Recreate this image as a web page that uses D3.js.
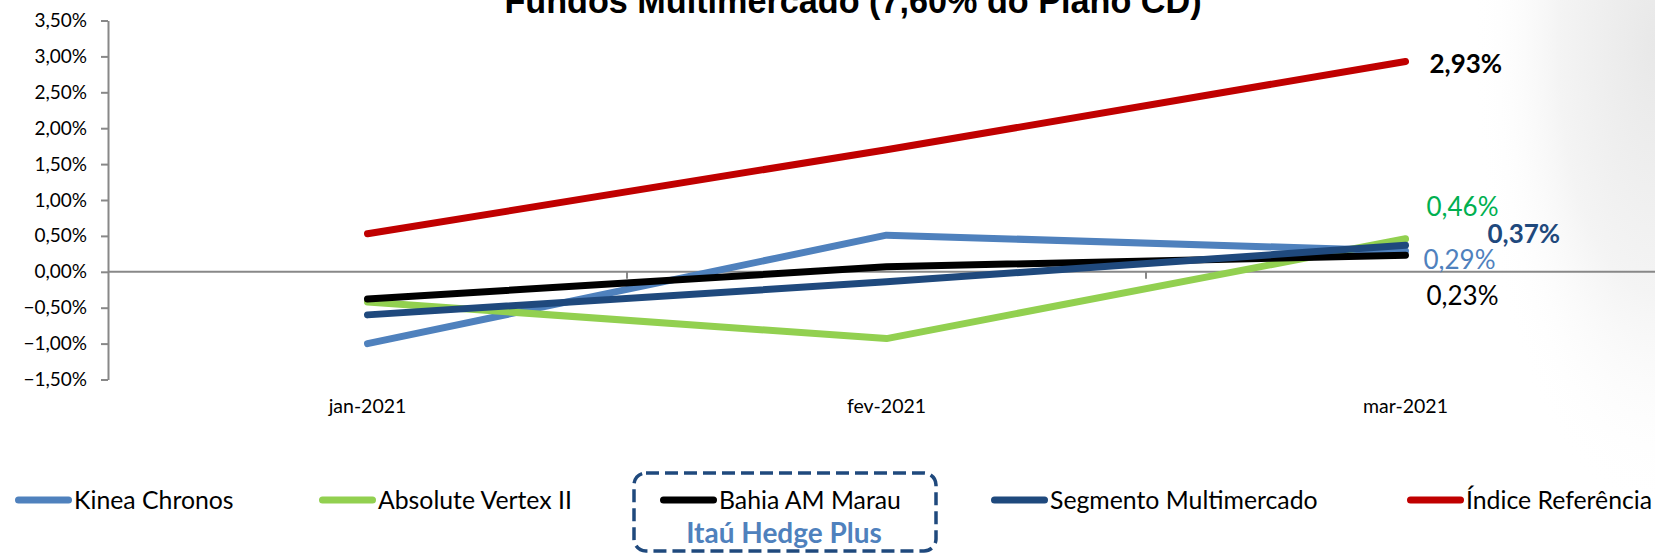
<!DOCTYPE html>
<html>
<head>
<meta charset="utf-8">
<script src="https://cdn.jsdelivr.net/npm/d3@7"></script>
<style>
  html, body { margin: 0; padding: 0; background: #ffffff; }
  svg { display: block; }
</style>
</head>
<body>
<svg id="chart" width="1655" height="553"></svg>
<script>
// ---------- DATA ----------
const chartTitle = "Fundos Multimercado (7,60% do Plano CD)";
const categories = ["jan-2021", "fev-2021", "mar-2021"];
const seriesNames = ["Kinea Chronos", "Absolute Vertex II", "Bahia AM Marau", "Segmento Multimercado", "Índice Referência"];
const kineaChronos        = [-1.00,  0.51, 0.29];
const absoluteVertexII    = [-0.42, -0.93, 0.46];
const bahiaAMMarau        = [-0.38,  0.07, 0.23];
const segmentoMultimercado= [-0.60, -0.14, 0.37];
const indiceReferencia    = [ 0.53,  1.70, 2.93];
const yTicks = [-1.5, -1.0, -0.5, 0.0, 0.5, 1.0, 1.5, 2.0, 2.5, 3.0, 3.5];
const boxLabel = "Itaú Hedge Plus";

// ---------- STYLES ----------
const seriesValues = [kineaChronos, absoluteVertexII, bahiaAMMarau, segmentoMultimercado, indiceReferencia];
const lineColors  = ["#4F81BD", "#92D050", "#000000", "#1F497D", "#C00000"];
const labelColors = ["#4F81BD", "#00B050", "#000000", "#1F497D", "#000000"];
const labelBold   = [false, false, false, true, true];
const labelOffset = [[18, 9], [21, -32], [21, 40], [82, -12], [24, 2]];
const legendX     = [15, 319, 660, 991, 1407];
const FONT = "Lato, 'Open Sans', sans-serif";
const AXIS_GRAY = "#888888";

const locale = d3.formatLocale({decimal: ",", thousands: ".", grouping: [3], currency: ["R$", ""]});
const pct = locale.format(".2f");
const fmt = v => pct(v) + "%";

const svg = d3.select("#chart");

// background shade at right edge
const defs = svg.append("defs");
const rg = defs.append("radialGradient").attr("id", "shade")
  .attr("cx", 1).attr("cy", 0.08).attr("r", 1);
rg.append("stop").attr("offset", 0).attr("stop-color", "#e8e8e8");
rg.append("stop").attr("offset", 0.45).attr("stop-color", "#f4f4f4");
rg.append("stop").attr("offset", 0.85).attr("stop-color", "#ffffff").attr("stop-opacity", 0);
svg.append("rect").attr("width", 1655).attr("height", 553).attr("fill", "#ffffff");
svg.append("rect").attr("x", 1440).attr("y", 0).attr("width", 215).attr("height", 553).attr("fill", "url(#shade)");

// ---------- SCALES ----------
const x = d3.scaleBand().domain(categories).range([108, 1665]).padding(0);
const y = d3.scaleLinear().domain([d3.min(yTicks), d3.max(yTicks)]).range([379.5, 20.5]);
const cx = c => x(c) + x.bandwidth() / 2;

// ---------- TITLE ----------
svg.append("text")
  .attr("x", 853).attr("y", 13)
  .attr("text-anchor", "middle")
  .attr("font-family", "'Liberation Sans', Arial, sans-serif")
  .attr("font-weight", "bold")
  .attr("font-size", 34.2)
  .attr("fill", "#000")
  .text(chartTitle);

// ---------- Y AXIS ----------
const yAxis = svg.append("g")
  .attr("transform", "translate(108,0)")
  .call(d3.axisLeft(y).tickValues(yTicks).tickFormat(fmt).tickSize(7).tickSizeOuter(0).tickPadding(14));
yAxis.select(".domain").attr("stroke", AXIS_GRAY).attr("stroke-width", 2);
yAxis.selectAll(".tick line").attr("stroke", AXIS_GRAY).attr("stroke-width", 2);
yAxis.selectAll(".tick text").attr("font-family", FONT).attr("font-size", 19).attr("fill", "#000");

// ---------- X AXIS (zero line with boundary ticks) ----------
const xAxisG = svg.append("g").attr("transform", `translate(0,${y(0)})`);
xAxisG.append("line").attr("x1", 108).attr("x2", 1665).attr("y1", 0).attr("y2", 0)
  .attr("stroke", AXIS_GRAY).attr("stroke-width", 2);
xAxisG.selectAll(".bt").data(categories.slice(1)).join("line")
  .attr("class", "bt")
  .attr("x1", d => x(d)).attr("x2", d => x(d))
  .attr("y1", 0).attr("y2", 7)
  .attr("stroke", AXIS_GRAY).attr("stroke-width", 2);

// category labels below the plot
const catAxis = svg.append("g")
  .attr("transform", `translate(0,${y(d3.min(yTicks))})`)
  .call(d3.axisBottom(x).tickSize(0).tickPadding(20));
catAxis.select(".domain").remove();
catAxis.selectAll(".tick text").attr("font-family", FONT).attr("font-size", 19.5).attr("fill", "#000");

// ---------- LINES ----------
const line = d3.line().x((d, i) => cx(categories[i])).y(d => y(d));
svg.append("g").selectAll("path").data(seriesValues).join("path")
  .attr("d", d => line(d))
  .attr("fill", "none")
  .attr("stroke", (d, i) => lineColors[i])
  .attr("stroke-width", 7)
  .attr("stroke-linecap", "round")
  .attr("stroke-linejoin", "round");

// ---------- DATA LABELS (last point) ----------
const last = categories.length - 1;
svg.append("g").selectAll("text").data(seriesValues).join("text")
  .attr("x", (d, i) => cx(categories[last]) + labelOffset[i][0])
  .attr("y", (d, i) => y(d[last]) + labelOffset[i][1])
  .attr("dy", "0.36em")
  .attr("font-family", FONT)
  .attr("font-size", 26)
  .attr("font-weight", (d, i) => labelBold[i] ? "bold" : "normal")
  .attr("fill", (d, i) => labelColors[i])
  .text(d => fmt(d[last]));

// ---------- LEGEND ----------
const legend = svg.append("g");
const items = legend.selectAll("g").data(seriesNames).join("g")
  .attr("transform", (d, i) => `translate(${legendX[i]},500)`);
items.append("line")
  .attr("x1", 3.5).attr("x2", 53.5).attr("y1", 0).attr("y2", 0)
  .attr("stroke", (d, i) => lineColors[i])
  .attr("stroke-width", 7).attr("stroke-linecap", "round");
items.append("text")
  .attr("x", 59).attr("y", 8.5)
  .attr("font-family", FONT).attr("font-size", 24.8).attr("fill", "#000")
  .text(d => d);

// dashed highlight box
legend.append("rect")
  .attr("x", 634).attr("y", 473).attr("width", 302).attr("height", 78)
  .attr("rx", 12).attr("ry", 12)
  .attr("fill", "none").attr("stroke", "#1F497D")
  .attr("stroke-width", 3.5).attr("stroke-dasharray", "13,6");
legend.append("text")
  .attr("x", 784).attr("y", 543)
  .attr("text-anchor", "middle")
  .attr("font-family", FONT).attr("font-weight", "bold").attr("font-size", 28)
  .attr("fill", "#4F81BD")
  .text(boxLabel);
</script>
</body>
</html>
